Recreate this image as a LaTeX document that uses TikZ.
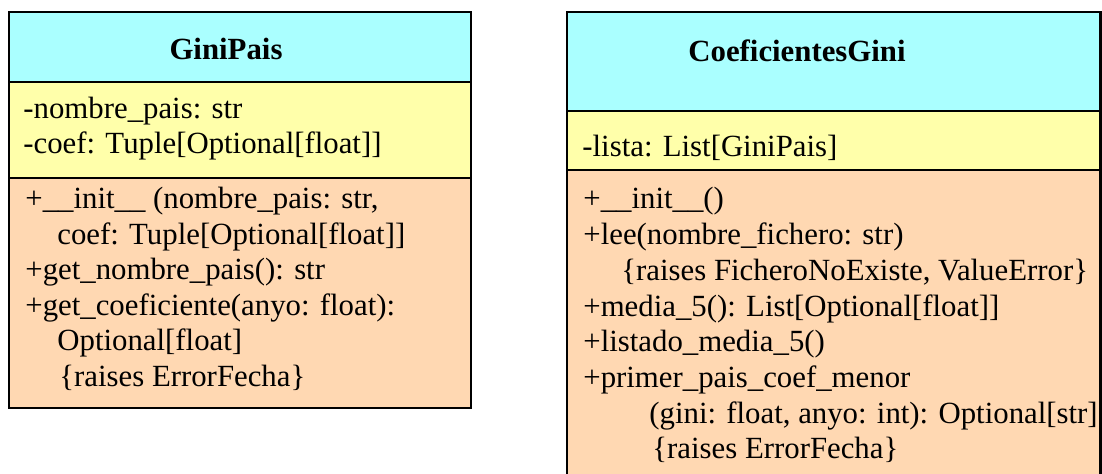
\documentclass[tikz,border=0pt]{standalone}
\usepackage{fontspec}
\setmainfont{Liberation Serif}
\usepackage{tikz}

\definecolor{hdrcyan}{RGB}{170,255,255}
\definecolor{attryellow}{RGB}{255,255,170}
\definecolor{methpeach}{RGB}{255,216,178}

\tikzset{
  compart/.style={draw=black, line width=1.2pt},
  umltxt/.style={anchor=base west, inner sep=0pt, font=\fontsize{15.4}{17.85}\selectfont},
  umltitle/.style={anchor=base, inner sep=0pt, font=\fontsize{15.4}{17.85}\selectfont\bfseries}
}

\begin{document}
\begin{tikzpicture}[x=0.5pt, y=-0.5pt]
	\useasboundingbox (0,0) rectangle (1102,474);

	%%%% class GiniPais
	\draw[compart, fill=hdrcyan] (9,12) rectangle (471,82);
	\draw[compart, fill=attryellow] (9,82) rectangle (471,178);
	\draw[compart, fill=methpeach] (9,178) rectangle (471,408);

	\node[umltitle] (giniTitle) at (226,60) {GiniPais};

	\node[umltxt] (giniA1) at (23,119) {-nombre\_pais: str};
	\node[umltxt] (giniA2) at (23,154) {-coef: Tuple[Optional[float]]};

	\node[umltxt] (giniM1) at (25,209) {+\_\_init\_\_ (nombre\_pais: str,};
	\node[umltxt] (giniM2) at (57,244.5) {coef: Tuple[Optional[float]]};
	\node[umltxt] (giniM3) at (25,280) {+get\_nombre\_pais(): str};
	\node[umltxt] (giniM4) at (25,315.5) {+get\_coeficiente(anyo: float):};
	\node[umltxt] (giniM5) at (57,351) {Optional[float]};
	\node[umltxt] (giniM6) at (59,386.5) {\{raises ErrorFecha\}};
	%%%%%%

	%%%% class CoeficientesGini
	\draw[compart, fill=hdrcyan] (567,12) rectangle (1100.5,111);
	\draw[compart, fill=attryellow] (567,111) rectangle (1100.5,170);
	\draw[compart, fill=methpeach] (567,170) rectangle (1100.5,490);

	\node[umltitle] (coefTitle) at (797,62) {CoeficientesGini};

	\node[umltxt] (coefA1) at (582,157) {-lista: List[GiniPais]};

	\node[umltxt] (coefM1) at (583,209) {+\_\_init\_\_()};
	\node[umltxt] (coefM2) at (583,244.7) {+lee(nombre\_fichero: str)};
	\node[umltxt] (coefM3) at (621,280.4) {\{raises FicheroNoExiste, ValueError\}};
	\node[umltxt] (coefM4) at (583,316.1) {+media\_5(): List[Optional[float]]};
	\node[umltxt] (coefM5) at (583,351.8) {+listado\_media\_5()};
	\node[umltxt] (coefM6) at (583,387.5) {+primer\_pais\_coef\_menor};
	\node[umltxt] (coefM7) at (649,423.2) {(gini: float, anyo: int): Optional[str]};
	\node[umltxt] (coefM8) at (652,458.9) {\{raises ErrorFecha\}};
	%%%%%%
\end{tikzpicture}
\end{document}
